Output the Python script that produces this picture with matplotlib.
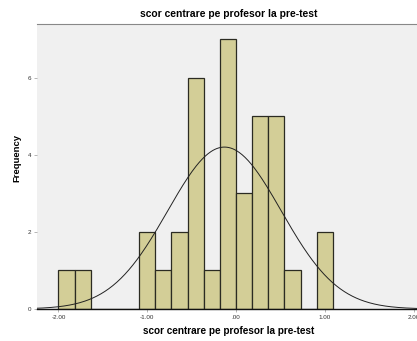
import numpy as np
import matplotlib.pyplot as plt

plt.rcParams['font.family'] = ['Liberation Sans', 'DejaVu Sans']

# histogram bins (left edges start at -2.00, width 2/11)
bin_start = -2.0
bin_width = 2.0 / 11
counts = [1, 1, 0, 0, 0, 2, 1, 2, 6, 1, 7, 3, 5, 5, 1, 0, 2]

xticks = [-2.0, -1.0, 0.0, 1.0, 2.0]
xticklabels = ['-2.00', '-1.00', '.00', '1.00', '2.00']
yticks = [0, 2, 4, 6]

title = 'scor centrare pe profesor la pre-test'
xlabel = 'scor centrare pe profesor la pre-test'
ylabel = 'Frequency'

edges = bin_start + bin_width * np.arange(len(counts) + 1)
centers = (edges[:-1] + edges[1:]) / 2
counts = np.array(counts)
n = counts.sum()
mu = (centers * counts).sum() / n
sd = np.sqrt(((centers - mu) ** 2 * counts).sum() / (n - 1))

fig = plt.figure(figsize=(4.17, 3.41), dpi=100)
ax = fig.add_axes([0.089, 0.094, 0.92, 0.836])
ax.set_facecolor('#f0f0f0')

ax.bar(edges[:-1], counts, width=bin_width, align='edge',
       color='#d3ce97', edgecolor='#2b2b22', linewidth=0.9, zorder=2)

# fitted normal curve scaled to counts
xs = np.linspace(-2.3, 2.2, 400)
pdf = n * bin_width / (sd * np.sqrt(2 * np.pi)) * np.exp(-0.5 * ((xs - mu) / sd) ** 2)
ax.plot(xs, pdf, color='#222222', linewidth=0.7, zorder=3)

ax.set_xlim(-2.24, 2.08)
ax.set_ylim(0, 7.4)
ax.set_xticks(xticks)
ax.set_xticklabels(xticklabels)
ax.set_yticks(yticks)
ax.tick_params(axis='both', labelsize=4.5, length=2, width=0.5, color='#999999',
               labelcolor='#333333', pad=2)

for side in ['left', 'right']:
    ax.spines[side].set_visible(False)
ax.spines['top'].set_color('#888888')
ax.spines['top'].set_linewidth(0.8)
ax.spines['bottom'].set_color('#111111')
ax.spines['bottom'].set_linewidth(1.0)

ax.set_title(title, fontsize=7.4, fontweight='bold', pad=5)
ax.set_xlabel(xlabel, fontsize=7.2, fontweight='bold', labelpad=5)
ax.set_ylabel(ylabel, fontsize=6.8, fontweight='bold')
ax.yaxis.set_label_coords(-0.04, 0.53)

fig.savefig('out.png', dpi=100)
